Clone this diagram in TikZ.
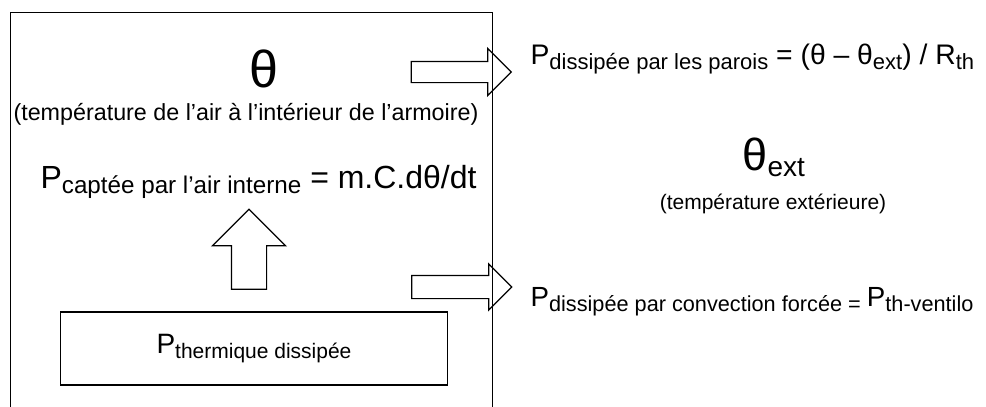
\documentclass[tikz,border=0pt]{standalone}
\usepackage{fontspec}
\setmainfont{Liberation Sans}
\usetikzlibrary{shapes.arrows}

\newcommand\bas[2][21]{\raisebox{-5.5pt}{\fontsize{#1}{#1}\selectfont #2}}

\begin{document}
\begin{tikzpicture}[x=1pt, y=-1pt, line width=1.2pt,
  grand/.style={inner sep=0pt, font=\fontsize{28}{30}\selectfont},
  petit/.style={inner sep=0pt, font=\fontsize{21}{24}\selectfont},
  fleche/.style={draw, single arrow, single arrow head extend=13pt, inner sep=10pt, minimum height=100pt}]
\useasboundingbox (0, 0) rectangle (986, 407);

\node (armoire) at (10, 12) [draw, anchor=north west, minimum width=482pt, minimum height=420pt] {};
\node (source) at (254, 348.5) [draw, minimum width=387pt, minimum height=73pt, grand] {P\bas{thermique dissipée}};

\node (theta) at (264, 87) [anchor=base, inner sep=0pt, font=\fontsize{52}{56}\selectfont] {θ};
\node (legende) at (246, 120) [anchor=base, petit, font=\fontsize{23.3}{26}\selectfont] {(température de l’air à l’intérieur de l’armoire)};
\node (capte) at (40, 188) [anchor=base west, grand, font=\fontsize{32}{34}\selectfont] {P\bas[24.2]{captée par l’air interne} = m.C.dθ/dt};

\node (haut) at (249, 258) [fleche, rotate=90, minimum height=80pt, inner sep=17pt, single arrow head extend=19pt] {};
\node (parois) at (456, 72) [fleche] {};
\node (ventilo) at (456, 287) [fleche, inner sep=11pt, single arrow head extend=11.5pt] {};

\node (dparois) at (530, 64) [anchor=base west, grand, font=\fontsize{28.3}{31}\selectfont] {P\bas[22]{dissipée par les parois} = (θ – θ\bas[22]{ext}) / R\bas[22]{th}};
\node (thext) at (742, 170) [anchor=base west, inner sep=0pt, font=\fontsize{45}{48}\selectfont] {θ\raisebox{-6pt}{\fontsize{28}{30}\selectfont ext}};
\node (legext) at (773, 209) [anchor=base, petit] {(température extérieure)};
\node (dventilo) at (530, 306) [anchor=base west, grand, font=\fontsize{27.7}{30}\selectfont] {P\bas[21.7]{dissipée par convection forcée = }P\bas[21.7]{th-ventilo}};
\end{tikzpicture}
\end{document}
